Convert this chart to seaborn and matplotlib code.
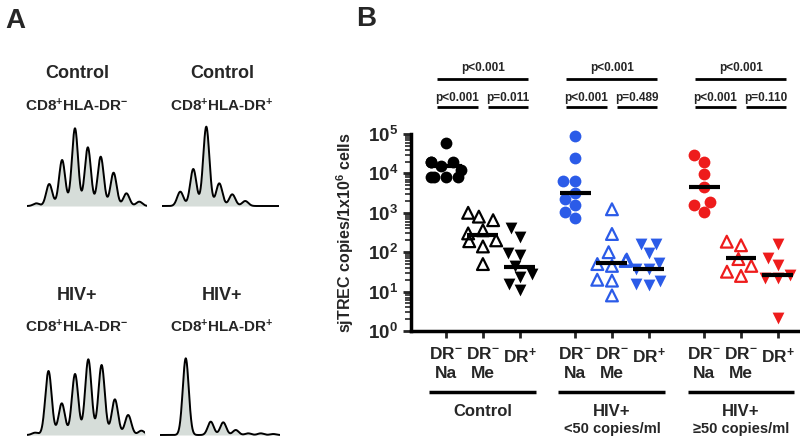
import numpy as np
import matplotlib
matplotlib.use("Agg")
import matplotlib.pyplot as plt
import seaborn as sns
from matplotlib.ticker import LogLocator, NullFormatter

sns.set_style("white")
plt.rcParams['font.family'] = ['Liberation Sans', 'DejaVu Sans']
plt.rcParams['font.weight'] = 'bold'
plt.rcParams['mathtext.fontset'] = 'custom'
plt.rcParams['mathtext.rm'] = 'Liberation Sans:bold'
plt.rcParams['mathtext.bf'] = 'Liberation Sans:bold'
plt.rcParams['mathtext.it'] = 'Liberation Sans:bold'
plt.rcParams['mathtext.default'] = 'bf'

# --- panel A: spectratype peak heights (one value per CDR3 length) ---
ctrl_drneg_peaks = [8, 66, 138, 233, 176, 148, 100, 38, 13]
ctrl_drpos_peaks = [43, 111, 238, 68, 35, 15]
hiv_drneg_peaks = [7, 192, 95, 183, 227, 210, 107, 60, 13]
hiv_drpos_peaks = [230, 0, 40, 38, 15, 5, 5, 3]

# --- panel B: sjTREC copies per 1x10^6 cells ---
ctrl_na = [58000, 20000, 20000, 19000, 15000, 12000, 8000, 8000, 8000, 8000]
ctrl_me = [1000, 800, 650, 360, 300, 200, 190, 140, 50]
ctrl_drp = [400, 250, 95, 85, 45, 28, 24, 16, 11]
low_na = [89000, 24000, 6500, 6500, 3200, 2300, 1600, 1050, 720]
low_me = [1230, 290, 100, 65, 60, 50, 45, 20, 19, 8]
low_drp = [160, 160, 93, 53, 38, 37, 19, 16, 15]
high_na = [29000, 19000, 9500, 4400, 1900, 1600, 1050]
high_me = [185, 150, 67, 45, 32, 25]
high_drp = [160, 70, 47, 27, 22, 22, 2.2]
medians = [15000, 270, 43, 3100, 52, 37, 4400, 71, 26]

tick_labels = ['DR$^{-}$\nNa', 'DR$^{-}$\nMe', 'DR$^{+}$'] * 3
group_names = ['Control', 'HIV+', 'HIV+']
group_sub = ['', '<50 copies/ml', '\u226550 copies/ml']
p_top = ['p<0.001', 'p<0.001', 'p<0.001']
p_left = ['p<0.001', 'p<0.001', 'p<0.001']
p_right = ['p=0.011', 'p=0.489', 'p=0.110']

black, blue, red = '#000000', '#2b5be8', '#ee1c1c'
W, H = 800, 442

fig = plt.figure(figsize=(8, 4.42), dpi=100)


def px_axes(x0, x1, ytop, ybot):
    return fig.add_axes([x0 / W, 1 - ybot / H, (x1 - x0) / W, (ybot - ytop) / H])


def spectratype(peaks, x0, x1, ybase, xlim):
    ax = px_axes(x0, x1, ybase + 1 - 248 / 3, ybase + 1)
    grid = np.linspace(xlim[0], xlim[1], 600)
    curve = np.zeros_like(grid)
    for k, h in enumerate(peaks):
        curve += h * np.exp(-0.5 * ((grid - k) / 0.24) ** 2)
    ax.fill_between(grid, 0, curve, color='#d6ddd9', lw=0)
    sns.lineplot(x=grid, y=curve, ax=ax, color='black', lw=1.4)
    ax.set_xlim(*xlim)
    ax.set_ylim(-3, 245)
    ax.axis('off')


spectratype(ctrl_drneg_peaks, 27, 147, 206, (-0.73, 8.6))
spectratype(ctrl_drpos_peaks, 162, 279, 206, (-1.41, 7.6))
spectratype(hiv_drneg_peaks, 27, 145, 435, (-0.62, 8.27))
spectratype(hiv_drpos_peaks, 160, 280, 435, (-2.06, 7.54))

for cx, t1, t2, y1, y2 in [(77, 'Control', 'CD8$^{+}$HLA-DR$^{-}$', 73, 106),
                           (222, 'Control', 'CD8$^{+}$HLA-DR$^{+}$', 73, 106),
                           (77, 'HIV+', 'CD8$^{+}$HLA-DR$^{-}$', 296, 327),
                           (222, 'HIV+', 'CD8$^{+}$HLA-DR$^{+}$', 296, 327)]:
    fig.text(cx / W, 1 - y1 / H, t1, ha='center', va='center', fontsize=13, fontweight='bold')
    fig.text(cx / W, 1 - y2 / H, t2, ha='center', va='center', fontsize=11, fontweight='bold')

fig.text(5 / W, 1 - 8 / H, 'A', ha='left', va='top', fontsize=20, fontweight='bold')
fig.text(356 / W, 1 - 6 / H, 'B', ha='left', va='top', fontsize=20, fontweight='bold')

# --- panel B axes ---
pos = [0, 1, 2, 3.5, 4.5, 5.5, 7, 8, 9]
ax = px_axes(411, 800, 134, 331)
series = [(ctrl_na, 'o', black, False), (ctrl_me, '^', black, True), (ctrl_drp, 'v', black, False),
          (low_na, 'o', blue, False), (low_me, '^', blue, True), (low_drp, 'v', blue, False),
          (high_na, 'o', red, False), (high_me, '^', red, True), (high_drp, 'v', red, False)]
for p, (vals, mk, col, hollow) in zip(pos, series):
    sns.swarmplot(x=np.full(len(vals), float(p)), y=vals, ax=ax, native_scale=True,
                  log_scale=(False, True), orient='x', marker=mk, color=col, size=8.5)
    coll = ax.collections[-1]
    coll.set_clip_on(False)
    if hollow:
        coll.set_facecolor('none')
        coll.set_edgecolor(col)
        coll.set_linewidth(1.6)

ax.hlines(medians, [p - 0.42 for p in pos], [p + 0.42 for p in pos], color='black', lw=3, zorder=5)

ax.set_yscale('log')
ax.set_ylim(1, 1e5)
ax.set_xlim(-0.95, 9.6)
ax.set_yticks([1, 10, 100, 1e3, 1e4, 1e5])
ax.set_yticklabels(['$10^{%d}$' % k for k in range(6)], fontsize=13.5)
ax.yaxis.set_minor_locator(LogLocator(base=10, subs=np.arange(2, 10), numticks=20))
ax.yaxis.set_minor_formatter(NullFormatter())
ax.set_xticks(pos)
ax.set_xticklabels(tick_labels, fontsize=12.5, linespacing=1.3)
ax.tick_params(axis='y', which='major', direction='out', length=6, width=2, left=True)
ax.tick_params(axis='y', which='minor', direction='out', length=4, width=1.2, left=True)
ax.tick_params(axis='x', direction='out', length=5, width=2, bottom=True, pad=6)
for s in ['top', 'right']:
    ax.spines[s].set_visible(False)
for s in ['left', 'bottom']:
    ax.spines[s].set_linewidth(2.5)
    ax.spines[s].set_color('black')
ax.set_xlabel('')
ax.set_ylabel('sjTREC copies/1x10$^{6}$ cells', fontsize=11.5, fontweight='bold', labelpad=8)

tr = ax.get_xaxis_transform()


def hline(xa, xb, y, lw=2):
    ax.plot([xa, xb], [y, y], color='black', lw=lw, transform=tr, clip_on=False, solid_capstyle='butt')


for g in range(3):
    a, b, c = pos[3 * g], pos[3 * g + 1], pos[3 * g + 2]
    hline(a - 0.24, c + 0.22, 1.279)
    ax.text((a + c) / 2, 1.335, p_top[g], transform=tr, ha='center', va='center', fontsize=8.5)
    hline(a - 0.24, b - 0.14, 1.137)
    ax.text((a + b - 0.38) / 2, 1.183, p_left[g], transform=tr, ha='center', va='center', fontsize=8.5)
    hline(b + 0.14, c + 0.22, 1.137)
    ax.text((b + c + 0.36) / 2, 1.183, p_right[g], transform=tr, ha='center', va='center', fontsize=8.5)
    hline(b - 1.45, b + 1.45, -0.31, lw=2.5)
    ax.text(b, -0.411, group_names[g], transform=tr, ha='center', va='center', fontsize=12)
    if group_sub[g]:
        ax.text(b, -0.497, group_sub[g], transform=tr, ha='center', va='center', fontsize=10.5)

fig.savefig('out.png', dpi=100)
